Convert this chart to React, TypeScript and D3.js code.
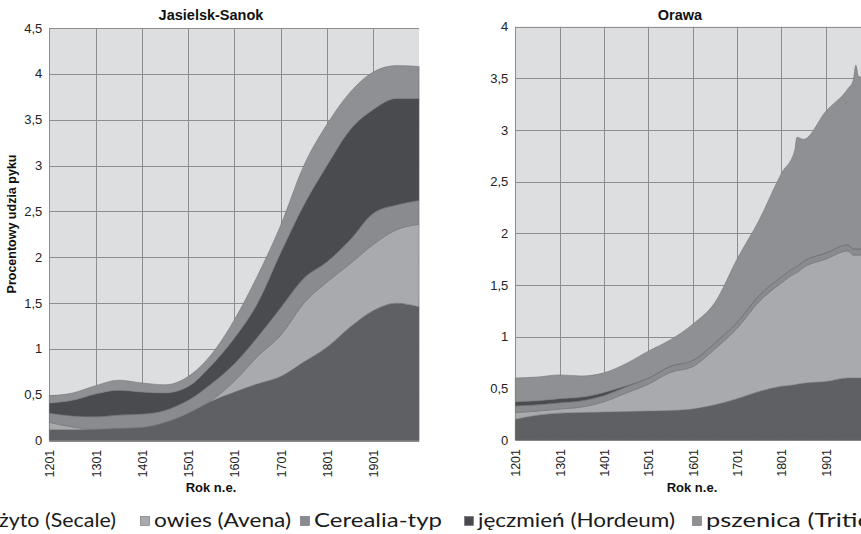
import React, { useRef, useEffect } from "react";
import * as d3 from "d3";

/* years of the sampled profile points */
const jsYears = [1201, 1251, 1301, 1351, 1401, 1451, 1501, 1551, 1601, 1651, 1701, 1751, 1801, 1851, 1901, 1951, 2000];
const orYears = [1201, 1251, 1301, 1351, 1401, 1451, 1501, 1551, 1601, 1651, 1701, 1751, 1801, 1831, 1836, 1851, 1901, 1951, 1963, 1969, 1975, 2000];
const tickYears = [1201, 1301, 1401, 1501, 1601, 1701, 1801, 1901];

const seriesNames = ["żyto (Secale)", "owies (Avena)", "Cerealia-typ", "jęczmień (Hordeum)", "pszenica (Triticum)"];
const seriesColors = ["#5f6064", "#a9aaad", "#8a8b8f", "#4a4b4f", "#8f9094"];

/* Jasielsk-Sanok, % of pollen per taxon */
const jsZyto = [0.12, 0.12, 0.125, 0.135, 0.145, 0.2, 0.3, 0.43, 0.53, 0.62, 0.7, 0.86, 1.02, 1.24, 1.42, 1.5, 1.46];
const jsOwies = [0.08, 0.03, 0, 0, 0, 0, 0, 0.01, 0.12, 0.3, 0.45, 0.64, 0.71, 0.69, 0.72, 0.8, 0.9];
const jsCerealia = [0.1, 0.12, 0.135, 0.145, 0.145, 0.13, 0.14, 0.18, 0.19, 0.21, 0.3, 0.27, 0.22, 0.26, 0.34, 0.27, 0.26];
const jsJeczmien = [0.11, 0.17, 0.25, 0.27, 0.24, 0.19, 0.15, 0.2, 0.28, 0.37, 0.6, 0.8, 1.05, 1.2, 1.13, 1.16, 1.11];
const jsPszenica = [0.08, 0.08, 0.09, 0.11, 0.1, 0.09, 0.11, 0.12, 0.2, 0.3, 0.3, 0.43, 0.45, 0.41, 0.41, 0.36, 0.35];

/* Orawa, % of pollen per taxon */
const orZyto = [0.2, 0.24, 0.26, 0.265, 0.27, 0.275, 0.28, 0.285, 0.3, 0.34, 0.4, 0.47, 0.52, 0.535, 0.54, 0.55, 0.565, 0.6, 0.6, 0.6, 0.6, 0.59];
const orOwies = [0.065, 0.04, 0.04, 0.055, 0.1, 0.18, 0.26, 0.37, 0.41, 0.54, 0.68, 0.87, 1.0, 1.075, 1.08, 1.12, 1.185, 1.23, 1.19, 1.19, 1.19, 1.21];
const orCerealia = [0.065, 0.06, 0.06, 0.06, 0.06, 0.06, 0.06, 0.06, 0.06, 0.06, 0.06, 0.06, 0.06, 0.06, 0.06, 0.06, 0.06, 0.06, 0.06, 0.06, 0.06, 0.06];
const orJeczmien = [0.04, 0.04, 0.04, 0.035, 0.03, 0.01, 0, 0, 0, 0, 0, 0, 0, 0, 0, 0, 0, 0, 0, 0, 0, 0];
const orPszenica = [0.23, 0.23, 0.23, 0.205, 0.19, 0.215, 0.26, 0.255, 0.35, 0.39, 0.61, 0.73, 1.0, 1.13, 1.25, 1.18, 1.37, 1.51, 1.63, 1.78, 1.67, 1.64];

const jsTicks = [0, 0.5, 1, 1.5, 2, 2.5, 3, 3.5, 4, 4.5];
const orTicks = [0, 0.5, 1, 1.5, 2, 2.5, 3, 3.5, 4];

const keys = ["s0", "s1", "s2", "s3", "s4"];
const fmt = (v: number) => String(v).replace(".", ",");
const FONT = "'Liberation Sans', Arial, sans-serif";

const App = () => {
  const svgRef = useRef<SVGSVGElement>(null);

  /* one stacked area panel */
  const drawPanel = (root: any, cfg: any) => {
    const x = d3.scaleLinear().domain([1201, 2000]).range([cfg.x0, cfg.x1]);
    const y = d3.scaleLinear().domain([0, cfg.yMax]).range([cfg.y0, cfg.y1]);

    const rows = cfg.years.map((yr: number, i: number) => {
      const r: any = { year: yr };
      cfg.series.forEach((s: number[], k: number) => (r[keys[k]] = s[i]));
      return r;
    });
    const stacked = d3.stack().keys(keys)(rows);

    const g = root.append("g");

    /* plot background */
    g.append("rect")
      .attr("x", cfg.x0)
      .attr("y", cfg.y1)
      .attr("width", cfg.x1 - cfg.x0)
      .attr("height", cfg.y0 - cfg.y1)
      .attr("fill", "#dddee0");

    /* grid */
    g.selectAll(".vgrid")
      .data(tickYears)
      .enter()
      .append("line")
      .attr("x1", (d: number) => Math.round(x(d)) + 0.5)
      .attr("x2", (d: number) => Math.round(x(d)) + 0.5)
      .attr("y1", cfg.y1)
      .attr("y2", cfg.y0)
      .attr("stroke", "#8e8e90")
      .attr("stroke-width", 1);
    g.selectAll(".hgrid")
      .data(cfg.ticks)
      .enter()
      .append("line")
      .attr("x1", cfg.x0)
      .attr("x2", cfg.x1)
      .attr("y1", (d: number) => Math.round(y(d)) + 0.5)
      .attr("y2", (d: number) => Math.round(y(d)) + 0.5)
      .attr("stroke", "#8e8e90")
      .attr("stroke-width", 1);

    /* stacked areas */
    const area = d3
      .area<any>()
      .x((d) => x(d.data.year))
      .y0((d) => y(d[0]))
      .y1((d) => y(d[1]))
      .curve(d3.curveMonotoneX);

    g.selectAll(".layer")
      .data(stacked)
      .enter()
      .append("path")
      .attr("d", area)
      .attr("fill", (d: any, i: number) => seriesColors[i])
      .attr("stroke", "#6c6d71")
      .attr("stroke-width", 0.5);

    /* y tick labels */
    g.selectAll(".ylab")
      .data(cfg.ticks)
      .enter()
      .append("text")
      .attr("x", cfg.x0 - 7)
      .attr("y", (d: number) => y(d) + 4.5)
      .attr("text-anchor", "end")
      .style("font-family", FONT)
      .style("font-size", "13px")
      .attr("fill", "#222")
      .text((d: number) => fmt(d));

    /* x tick labels, rotated */
    g.selectAll(".xlab")
      .data(tickYears)
      .enter()
      .append("text")
      .attr("transform", (d: number) => `translate(${x(d) + 5}, ${cfg.y0 + 9}) rotate(-90)`)
      .attr("text-anchor", "end")
      .style("font-family", FONT)
      .style("font-size", "12.5px")
      .attr("fill", "#222")
      .text((d: number) => d);

    /* title */
    g.append("text")
      .attr("x", cfg.titleX)
      .attr("y", 20)
      .attr("text-anchor", "middle")
      .style("font-family", FONT)
      .style("font-size", "14.5px")
      .style("font-weight", "700")
      .attr("fill", "#111")
      .text(cfg.title);

    /* x axis label */
    g.append("text")
      .attr("x", cfg.xLabelX)
      .attr("y", 492)
      .attr("text-anchor", "middle")
      .style("font-family", FONT)
      .style("font-size", "13px")
      .style("font-weight", "700")
      .attr("fill", "#111")
      .text("Rok n.e.");
  };

  const drawChart = () => {
    d3.select(svgRef.current).selectAll("*").remove();
    const svg = d3.select(svgRef.current);

    svg.append("rect").attr("width", 861).attr("height", 534).attr("fill", "#fff");

    drawPanel(svg, {
      x0: 49.3,
      x1: 419.1,
      y0: 440.7,
      y1: 28,
      yMax: 4.5,
      ticks: jsTicks,
      title: "Jasielsk-Sanok",
      titleX: 211,
      xLabelX: 211,
      years: jsYears,
      series: [jsZyto, jsOwies, jsCerealia, jsJeczmien, jsPszenica],
    });

    drawPanel(svg, {
      x0: 515.3,
      x1: 869.6,
      y0: 440,
      y1: 26.7,
      yMax: 4,
      ticks: orTicks,
      title: "Orawa",
      titleX: 680,
      xLabelX: 692,
      years: orYears,
      series: [orZyto, orOwies, orCerealia, orJeczmien, orPszenica],
    });

    /* Y axis title */
    svg
      .append("text")
      .attr("transform", "translate(16, 224) rotate(-90)")
      .attr("text-anchor", "middle")
      .style("font-family", FONT)
      .style("font-size", "12.5px")
      .style("font-weight", "700")
      .attr("fill", "#111")
      .text("Procentowy udzia pyku");

    /* legend */
    const legendX = [-15, 140, 300, 464, 692];
    const legendW = [117, 137, 128, 197, 205];
    const legend = svg
      .selectAll(".legend")
      .data(seriesNames)
      .enter()
      .append("g")
      .attr("transform", (d: string, i: number) => `translate(${legendX[i]}, 516)`);
    legend
      .append("rect")
      .attr("x", 0.5)
      .attr("y", 0.5)
      .attr("width", 9)
      .attr("height", 9)
      .attr("fill", (d: string, i: number) => seriesColors[i])
      .attr("stroke", "#6c6d71")
      .attr("stroke-width", 0.6);
    legend
      .append("text")
      .attr("x", 14)
      .attr("y", 11)
      .attr("textLength", (d: string, i: number) => legendW[i])
      .attr("lengthAdjust", "spacingAndGlyphs")
      .style("font-family", "Lato, 'Open Sans', sans-serif")
      .style("font-size", "19px")
      .attr("fill", "#1a1a1a")
      .text((d: string) => d);
  };

  useEffect(() => {
    drawChart();
  }, []);

  return (
    <svg
      ref={svgRef}
      width={861}
      height={534}
      style={{ position: "absolute", left: 0, top: 0, display: "block" }}
    />
  );
};

export default App;
